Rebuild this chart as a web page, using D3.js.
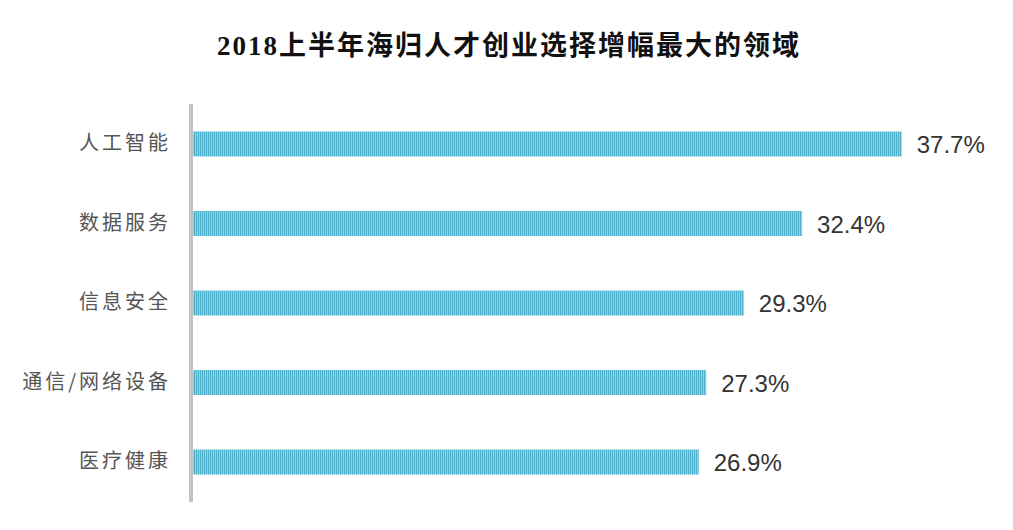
<!DOCTYPE html>
<html>
<head>
<meta charset="utf-8">
<script src="https://cdn.jsdelivr.net/npm/d3@7"></script>
<style>
  html, body { margin: 0; padding: 0; background: #fff; }
</style>
</head>
<body>
<div id="chart"></div>
<script>
const title = "2018上半年海归人才创业选择增幅最大的领域"
const categories = ["人工智能", "数据服务", "信息安全", "通信/网络设备", "医疗健康"]
const values = [37.7, 32.4, 29.3, 27.3, 26.9]

const width = 1013
const height = 530

const svg = d3.select("#chart")
    .append("svg")
    .attr("width", width)
    .attr("height", height)

// striped fill like the original bars
const defs = svg.append("defs")
const pat = defs.append("pattern")
    .attr("id", "stripes")
    .attr("patternUnits", "userSpaceOnUse")
    .attr("width", 2)
    .attr("height", 4)
pat.append("rect").attr("width", 2).attr("height", 4).attr("fill", "#8fd2e4")
pat.append("rect").attr("width", 1).attr("height", 4).attr("fill", "#4eb0cb")

svg.append("text")
    .attr("x", 509)
    .attr("y", 55)
    .attr("text-anchor", "middle")
    .attr("font-family", "'Liberation Serif', 'Noto Sans CJK SC', serif")
    .attr("font-weight", "bold")
    .attr("font-size", 27)
    .attr("letter-spacing", 2)
    .attr("fill", "#111")
    .text(title)

const x = d3.scaleLinear()
    .domain([0, 40])
    .range([193, 945])

const y = d3.scaleBand()
    .domain(categories)
    .range([104, 502])
    .paddingInner(0.686)
    .paddingOuter(0.346)

const data = categories.map((c, i) => ({ name: c, value: values[i] }))

svg.selectAll("rect.bar")
    .data(data)
    .enter()
    .append("rect")
        .attr("class", "bar")
        .attr("x", x(0))
        .attr("y", d => y(d.name))
        .attr("width", d => x(d.value) - x(0))
        .attr("height", y.bandwidth())
        .attr("fill", "url(#stripes)")

svg.selectAll("text.val")
    .data(data)
    .enter()
    .append("text")
        .attr("class", "val")
        .attr("x", d => x(d.value) + 15)
        .attr("y", d => y(d.name) + y.bandwidth() / 2)
        .attr("dy", "0.38em")
        .attr("font-family", "'Liberation Sans', Arial, sans-serif")
        .attr("font-size", 24)
        .attr("fill", "#333")
        .text(d => d.value.toFixed(1) + "%")

// category axis, drawn with d3 axis then styled
const yAxis = svg.append("g")
    .attr("transform", `translate(${x(0) - 2},0)`)
    .call(d3.axisLeft(y).tickSize(0).tickPadding(20))

yAxis.select(".domain")
    .attr("d", "M0,104V502")
    .attr("stroke", "#c3c3c3")
    .attr("stroke-width", 4)

yAxis.selectAll(".tick text")
    .attr("font-family", "'Noto Sans CJK SC', sans-serif")
    .attr("font-size", 20)
    .attr("letter-spacing", 3)
    .attr("fill", "#555")
</script>
</body>
</html>
